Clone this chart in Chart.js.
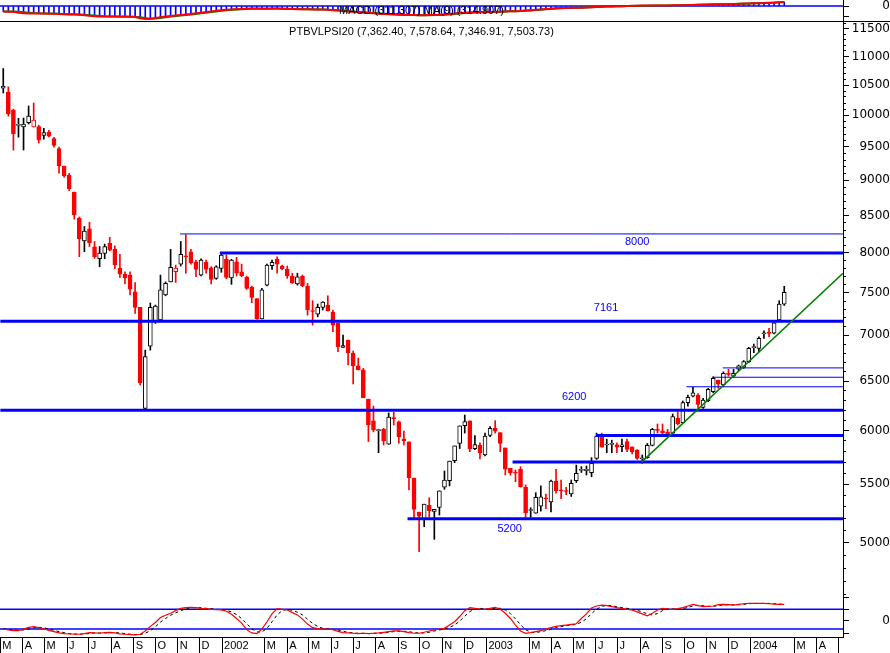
<!DOCTYPE html>
<html>
<head>
<meta charset="utf-8">
<script src="https://cdn.jsdelivr.net/npm/chart.js@4.4.1/dist/chart.umd.min.js"></script>
<style>
  html, body { margin: 0; padding: 0; background: #fff; }
  #wrap { position: relative; width: 890px; height: 653px; overflow: hidden; }
  canvas { position: absolute; left: 0; }
</style>
</head>
<body>
<div id="wrap">
  <canvas id="macd" width="890" height="22" style="top:0px"></canvas>
  <canvas id="price" width="890" height="576" style="top:21px"></canvas>
  <canvas id="osc" width="890" height="56" style="top:597px"></canvas>
</div>
<script>
// weekly candles, first week starting on this date
const candleStart = '2001-03-05';

const opens = [
  10450,10380,10085,9835,9811,9880,9811,9816,9680,9731,9627,9473,9210,9073,8830,8464,8156,8320,8078,7925,
  7995,8125,8046,7802,7731,7718,7512,7325,6219,6879,7156,7176,7475,7633,7760,7854,7955,8015,7886,7718,
  7882,7810,7677,7802,7918,7681,7886,7760,7693,7566,7428,7188,7594,7836,7918,7832,7790,7706,7607,7706,
  7582,7285,7244,7325,7352,7269,7137,6863,6947,6800,6661,6618,6313,6093,5998,6013,5867,6124,6083,5918,
  5889,5555,5257,5194,5315,5262,5297,5472,5531,5712,5874,6046,6093,5826,5856,5766,5951,6020,5978,5832,
  5643,5605,5634,5472,5270,5246,5307,5378,5343,5528,5447,5440,5413,5531,5624,5622,5603,5735,5946,5860,
  5866,5862,5845,5893,5842,5813,5731,5741,5856,6006,5996,5986,5974,6120,6076,6276,6343,6353,6229,6296,
  6388,6510,6458,6577,6552,6625,6646,6708,6862,6854,7018,7030,7023,7176,7362.40
];
const highs = [
  10786,10470,10100,9950,9955,10151,10200,9840,9790,9760,9648,9497,9210,9102,8830,8480,8350,8408,8150,8083,
  8115,8205,8092,7982,7760,7760,7626,7325,6834,7376,7352,7718,7633,8046,7843,8150,8240,8046,7908,7925,
  7908,7823,7836,8002,7972,7918,7943,7856,7706,7582,7428,7554,7856,7908,7951,7843,7832,7741,7741,7718,
  7615,7404,7364,7393,7463,7293,7144,7003,6947,6824,6747,6635,6313,6242,6012,6020,6172,6179,6093,5993,
  5889,5555,5257,5324,5380,5280,5440,5618,5709,5851,6044,6152,6093,5951,5880,5974,6037,6096,5978,5832,
  5643,5628,5658,5493,5294,5424,5484,5413,5537,5634,5537,5472,5537,5672,5658,5664,5741,5974,5974,5916,
  5906,5880,5916,5916,5842,5817,5766,5874,6020,6063,6063,6010,6162,6183,6293,6353,6434,6370,6320,6424,
  6545,6510,6598,6625,6625,6671,6719,6865,6901,6984,7052,7081,7166,7404,7578.64
];
const lows = [
  10367,9985,9450,9650,9452,9859,9811,9560,9620,9655,9497,9102,9045,8850,8451,7951,8015,8083,7930,7823,
  7925,8028,7798,7690,7607,7475,7254,6458,6212,6834,7137,7176,7463,7633,7626,7832,7741,7856,7697,7706,
  7741,7607,7665,7753,7673,7603,7706,7697,7542,7380,7184,7188,7582,7790,7741,7785,7677,7615,7594,7574,
  7232,7117,7213,7293,7281,7041,6817,6863,6671,6469,6618,6326,5893,5986,5787,5860,5867,6053,5876,5860,
  5448,5212,4930,5133,5216,5029,5231,5454,5484,5694,5826,5974,5797,5816,5730,5757,5940,5974,5797,5582,
  5580,5521,5472,5212,5212,5246,5265,5286,5257,5420,5372,5406,5391,5514,5605,5582,5566,5725,5840,5787,
  5787,5787,5797,5797,5776,5725,5689,5735,5851,5974,5951,5951,5962,6053,6076,6240,6336,6219,6219,6286,
  6377,6424,6440,6552,6539,6610,6635,6697,6806,6817,6966,6984,7015,7168,7346.91
];
const closes = [
  10480,10020,9700,9855,9859,9988,9923,9606,9721,9665,9524,9210,9062,8878,8508,8187,8288,8133,7947,7998,
  8083,8037,7849,7731,7681,7545,7325,6482,6762,7325,7340,7534,7615,7816,7806,7982,7948,7873,7790,7908,
  7790,7665,7823,7972,7690,7908,7741,7709,7554,7443,7191,7534,7843,7878,7856,7798,7706,7620,7697,7582,
  7293,7275,7325,7386,7285,7117,6872,6885,6806,6661,6618,6326,6053,6003,6008,5899,6130,6116,5940,5899,
  5558,5280,5222,5324,5268,5280,5440,5537,5709,5851,6044,6086,5826,5864,5787,5946,6020,5993,5874,5634,
  5603,5598,5478,5252,5278,5383,5388,5371,5528,5443,5440,5435,5508,5597,5632,5634,5689,5946,5840,5868,
  5872,5840,5862,5817,5797,5735,5739,5856,6010,6000,5974,5962,6136,6063,6276,6330,6377,6259,6303,6414,
  6528,6467,6581,6570,6581,6661,6708,6854,6870,6966,7026,7022,7144,7364,7503.73
];

// MACD panel (line and its moving average)
const macdValues = [
  -430,-440,-450,-520,-560,-580,-585,-590,-590,-595,-600,-620,-650,-660,-670,-690,-720,
  -760,-790,-810,-820,-820,-825,-830,-830,-840,-860,-950,-1010,-1000,
  -940,-880,-820,-780,-740,-700,-660,-620,-570,-520,-470,-420,-370,-330,-300,
  -270,-250,-230,-210,-200,-200,-210,-210,-200,-200,-210,-230,
  -240,-250,-260,-260,-265,-270,-280,-300,-330,-360,-390,-420,-450,-480,
  -510,-540,-570,-600,-620,-650,
  -670,-690,-700,-700,-710,-720,-720,-710,-700,-690,-660,-620,-580,
  -550,-520,-500,-490,-480,-470,-460,-450,-440,-420,-410,-400,-390,
  -360,-330,-300,-270,-240,-210,-180,-160,-150,-140,-140,-130,-110,
  -90,-70,-50,-40,-30,-20,-10,0,
  10,20,30,30,40,40,40,40,50,50,60,70,80,100,
  110,120,130,130,140,150,160,170,190,200,210,220,230,250,270,290,311.307
];
const macdSignal = [
  -420,-425,-432,-445,-480,-520,-555,-575,-585,-590,-593,-600,-615,-635,-652,-668,-685,
  -715,-745,-775,-800,-815,-820,-825,-828,-832,-842,-880,-940,-985,
  -980,-935,-880,-825,-780,-740,-700,-660,-615,-570,-520,-470,-420,-375,-335,
  -300,-275,-250,-230,-215,-205,-205,-208,-205,-202,-205,-215,
  -228,-240,-250,-257,-262,-267,-275,-290,-310,-340,-370,-400,-430,-460,
  -490,-520,-550,-580,-605,-630,
  -650,-672,-688,-697,-705,-713,-718,-715,-707,-697,-680,-650,-615,
  -580,-550,-525,-505,-492,-480,-470,-460,-450,-432,-418,-407,-396,
  -372,-345,-315,-285,-255,-225,-195,-172,-157,-147,-142,-135,-120,
  -100,-80,-60,-47,-35,-25,-15,-5,
  5,15,25,28,35,38,40,40,46,50,56,65,75,92,
  104,115,126,130,137,146,156,166,182,195,206,216,226,243,262,290,314.907
];

// lower oscillator panel
const oscFast = [
  20,17,15,15,20,25,27,24,20,16, 12,8,6,5,4,4,6,9,8,7,
  9,10,8,5,4,3,2,4,14,28, 40,55,62,68,76,83,85,86,85,83,
  82,80,79,78,74,65,52,38,18,8, 6,20,42,66,82,80,78,70,63,50,
  35,24,21,20,20,18,13,9,8,7, 6,7,6,7,8,10,12,14,14,12,
  9,7,7,10,14,17,20,22,32,42, 58,76,85,83,81,80,83,86,80,68,
  52,32,14,7,9,12,15,20,24,28, 30,32,34,36,52,66,84,90,93,91,
  88,85,83,80,78,72,66,60,68,78, 83,81,80,82,85,90,95,91,88,89,
  90,94,95,94,93,95,97,98,98,98, 98,97,96,95,95
];
const oscSlow = [
  21,19,17,16,17,20,24,25,24,20, 16,12,9,6,5,4,5,6,8,8,
  8,9,9,8,6,4,3,3,7,15, 27,41,52,62,69,76,81,85,85,85,
  83,82,80,79,77,72,64,52,36,21, 11,11,22,42,63,76,80,77,71,63,
  50,37,28,22,21,19,17,13,10,8, 7,7,6,7,7,8,10,12,13,13,
  12,9,8,8,10,14,17,20,25,32, 44,59,73,81,83,81,81,83,83,78,
  67,51,33,18,10,9,12,15,19,24, 27,30,32,34,41,51,67,80,89,92,
  91,88,85,83,80,77,72,66,63,67, 76,81,81,81,82,86,90,92,91,89,
  89,91,93,94,94,94,95,97,98,98, 98,98,97,96,95
];
const oscLevels = [80, 20];

// horizontal support / resistance lines
const levelValues = [8250, 8000, 7161, 6640, 6540, 6440, 6200, 5950, 5700, 5200];
const levelStarts = ['2001-11-04', '2001-12-29', '2001-03-01', '2003-11-23', '2003-11-09',
                     '2003-10-04', '2001-03-01', '2003-06-01', '2003-02-06', '2002-09-14'];
const levelLabelTexts = ['8000', '7161', '6200', '5200'];
const levelLabelDates = ['2003-07-28', '2003-06-15', '2003-05-02', '2003-02-02'];
const levelLabelValues = [8143, 7316, 6334, 5114];

// trend line
const trendDates = ['2003-08-03', '2004-05-07'];
const trendValues = [5700, 7740];

// axes
const priceTicks = [5000, 5500, 6000, 6500, 7000, 7500, 8000, 8500, 9000, 9500, 10000, 10500, 11000, 11500];
const monthDates = [
  '2001-03-01','2001-04-01','2001-05-01','2001-06-01','2001-07-01','2001-08-01','2001-09-01','2001-10-01','2001-11-01','2001-12-01',
  '2002-01-01','2002-03-01','2002-04-01','2002-05-01','2002-06-01','2002-07-01','2002-08-01','2002-09-01','2002-10-01','2002-11-01','2002-12-01',
  '2003-01-01','2003-03-01','2003-04-01','2003-05-01','2003-06-01','2003-07-01','2003-08-01','2003-09-01','2003-10-01','2003-11-01','2003-12-01',
  '2004-01-01','2004-03-01','2004-04-01','2004-05-01'
];
const monthLabels = [
  'M','A','M','J','J','A','S','O','N','D',
  '2002','M','A','M','J','J','A','S','O','N','D',
  '2003','M','A','M','J','J','A','S','O','N','D',
  '2004','M','A',''
];

const titleText = 'PTBVLPSI20 (7,362.40, 7,578.64, 7,346.91, 7,503.73)';
const macdText = 'MACD (311.307) MA(9) (314.907)';

// ---------------------------------------------------------------
const DAY = 86400000;
const dayOf = s => Date.parse(s + 'T00:00:00Z') / DAY;
const xMin = dayOf('2001-03-01') - 0.5;
const xMax = dayOf('2004-05-07') + 0.1;

const RED = '#ff0000', BLUE = '#0000ff', GREEN = '#008000', BLACK = '#000000';
const AXIS_W = 47;
const levelWidths = [1, 3, 3, 1, 1, 1, 3, 3, 3, 3];
const labelFont = '11px "Liberation Sans", Arial, sans-serif';
const axisFont = { family: '"DejaVu Sans", sans-serif', size: 12 };

Chart.defaults.font.family = '"Liberation Sans", Arial, sans-serif';
Chart.defaults.color = BLACK;

const xs = closes.map((c, i) => dayOf(candleStart) + 7 * i);
const candleColor = closes.map((c, i) => (i > 0 && c < closes[i - 1]) ? RED : BLACK);
const bodyFill = closes.map((c, i) => c < opens[i] ? candleColor[i] : '#ffffff');

const hiddenX = () => ({ type: 'linear', min: xMin, max: xMax, offset: false, display: false, bounds: 'data' });

// no extra room for labels sticking out at the ends of an axis
function noPad(s) {
  s.paddingTop = 0; s.paddingBottom = 0; s.paddingLeft = 0; s.paddingRight = 0;
}

function rightAxis(type, min, max, tickVals, label, tickLen, pad, width) {
  return {
    type: type,
    position: 'right',
    min: min,
    max: max,
    bounds: 'data',
    weight: width ? 1 : 0,
    afterFit: s => { s.width = width; noPad(s); },
    afterBuildTicks: s => { s.ticks = tickVals.map(v => ({ value: v })); },
    grid: { drawOnChartArea: false, drawTicks: true, tickLength: tickLen, color: BLACK },
    border: { display: !!width, color: BLACK, width: 1 },
    ticks: { autoSkip: false, crossAlign: 'far', padding: pad, color: BLACK, font: axisFont,
             display: !!width, callback: label }
  };
}

// draws free text: fixed captions and level labels in data coordinates
const textPlugin = {
  id: 'texts',
  afterDatasetsDraw(chart, args, opts) {
    const ctx = chart.ctx;
    const area = chart.chartArea;
    ctx.save();
    ctx.textAlign = 'center';
    ctx.textBaseline = 'middle';
    ctx.font = labelFont;
    (opts.captions || []).forEach(c => {
      ctx.fillStyle = BLACK;
      ctx.fillText(c.text, (area.left + area.right) / 2, area.top + c.dy);
    });
    (opts.labels || []).forEach(l => {
      ctx.fillStyle = BLUE;
      ctx.fillText(l.text, chart.scales.x.getPixelForValue(l.x), chart.scales.y.getPixelForValue(l.y));
    });
    if (opts.separator) {
      ctx.strokeStyle = BLACK;
      ctx.lineWidth = 1;
      ctx.beginPath();
      ctx.moveTo(0, area.bottom + 0.5);
      ctx.lineTo(chart.width, area.bottom + 0.5);
      ctx.stroke();
    }
    ctx.restore();
  }
};

const common = {
  responsive: false,
  animation: false,
  events: []
};
const quiet = { legend: { display: false }, tooltip: { enabled: false } };

// ---------------- MACD ----------------
new Chart(document.getElementById('macd'), {
  type: 'bar',
  plugins: [textPlugin],
  data: {
    datasets: [
      { data: xs.map((x, i) => ({ x: x, y: macdValues[i] })), backgroundColor: BLUE,
        barThickness: 1, grouped: false, order: 3 },
      { type: 'line', data: [{ x: xMin, y: 0 }, { x: xMax, y: 0 }], borderColor: BLUE,
        borderWidth: 1.5, pointRadius: 0, order: 2 },
      { type: 'line', data: xs.map((x, i) => ({ x: x, y: macdSignal[i] })), borderColor: GREEN,
        borderWidth: 2, pointRadius: 0, order: 1 },
      { type: 'line', data: xs.map((x, i) => ({ x: x, y: macdValues[i] })), borderColor: RED,
        borderWidth: 2, pointRadius: 0, order: 0 }
    ]
  },
  options: Object.assign({}, common, {
    layout: { padding: { bottom: 1 } },
    scales: {
      x: hiddenX(),
      y: rightAxis('linear', -1170, 468, [0, -830], v => v === 0 ? '0' : '', 6, 29, AXIS_W)
    },
    plugins: Object.assign({}, quiet, {
      texts: { captions: [{ text: macdText, dy: 11 }], separator: true }
    })
  })
});

// ---------------- price ----------------
const minorTicks = [];
for (let v = 4600; v <= 11600; v += 100) minorTicks.push(v);

new Chart(document.getElementById('price'), {
  type: 'bar',
  plugins: [textPlugin],
  data: {
    datasets: [
      { data: xs.map((x, i) => ({ x: x, y: [lows[i], highs[i]] })), backgroundColor: candleColor,
        borderWidth: 0, barThickness: 1, grouped: false, minBarLength: 1, order: 3 },
      { data: xs.map((x, i) => ({ x: x, y: [Math.min(opens[i], closes[i]), Math.max(opens[i], closes[i])] })),
        backgroundColor: bodyFill, borderColor: candleColor, borderWidth: 1, borderSkipped: false,
        barThickness: 4, grouped: false, minBarLength: 1, order: 2 }
    ].concat(levelValues.map((v, i) => ({
      type: 'line', data: [{ x: dayOf(levelStarts[i]), y: v }, { x: xMax, y: v }],
      borderColor: BLUE, borderWidth: levelWidths[i], pointRadius: 0, order: 1
    }))).concat([{
      type: 'line', data: trendDates.map((d, i) => ({ x: dayOf(d), y: trendValues[i] })),
      borderColor: GREEN, borderWidth: 1.5, pointRadius: 0, order: 0
    }])
  },
  options: Object.assign({}, common, {
    scales: {
      x: hiddenX(),
      yMinor: rightAxis('logarithmic', 4580.5, 11650, minorTicks, () => '', 3, 0, 0),
      y: rightAxis('logarithmic', 4580.5, 11650, priceTicks, v => String(v), 6, -2, AXIS_W)
    },
    plugins: Object.assign({}, quiet, {
      texts: {
        captions: [{ text: titleText, dy: 11 }],
        labels: levelLabelTexts.map((t, i) => ({ text: t, x: dayOf(levelLabelDates[i]), y: levelLabelValues[i] }))
      }
    })
  })
});

// ---------------- oscillator + time axis ----------------
new Chart(document.getElementById('osc'), {
  type: 'line',
  data: {
    datasets: oscLevels.map(v => ({
      data: [{ x: xMin, y: v }, { x: xMax, y: v }], borderColor: BLUE, borderWidth: 1.5, pointRadius: 0, order: 2
    })).concat([
      { data: xs.map((x, i) => ({ x: x, y: oscSlow[i] })), borderColor: BLACK, borderWidth: 1,
        borderDash: [3, 3], pointRadius: 0, order: 1 },
      { data: xs.map((x, i) => ({ x: x, y: oscFast[i] })), borderColor: RED, borderWidth: 1.2,
        pointRadius: 0, order: 0 }
    ])
  },
  options: Object.assign({}, common, {
    scales: {
      x: {
        type: 'linear', min: xMin, max: xMax, offset: false, position: 'bottom', bounds: 'data',
        afterBuildTicks: s => { s.ticks = monthDates.map(d => ({ value: dayOf(d) })); },
        afterFit: s => { s.height = 15.3; noPad(s); },
        grid: { drawOnChartArea: false, drawTicks: true, tickLength: 16, color: BLACK, offset: false },
        border: { display: true, color: BLACK, width: 1 },
        ticks: {
          autoSkip: false, maxRotation: 0, minRotation: 0, align: 'start', labelOffset: 2,
          padding: -14.4, color: BLACK, font: { size: 11 },
          callback: (v, i) => monthLabels[i]
        }
      },
      y: rightAxis('linear', -6.5, 117.5, [117, 80, 45, 7], v => v === 45 ? '0' : '', 6, 29, AXIS_W)
    },
    plugins: quiet
  })
});
</script>
</body>
</html>
